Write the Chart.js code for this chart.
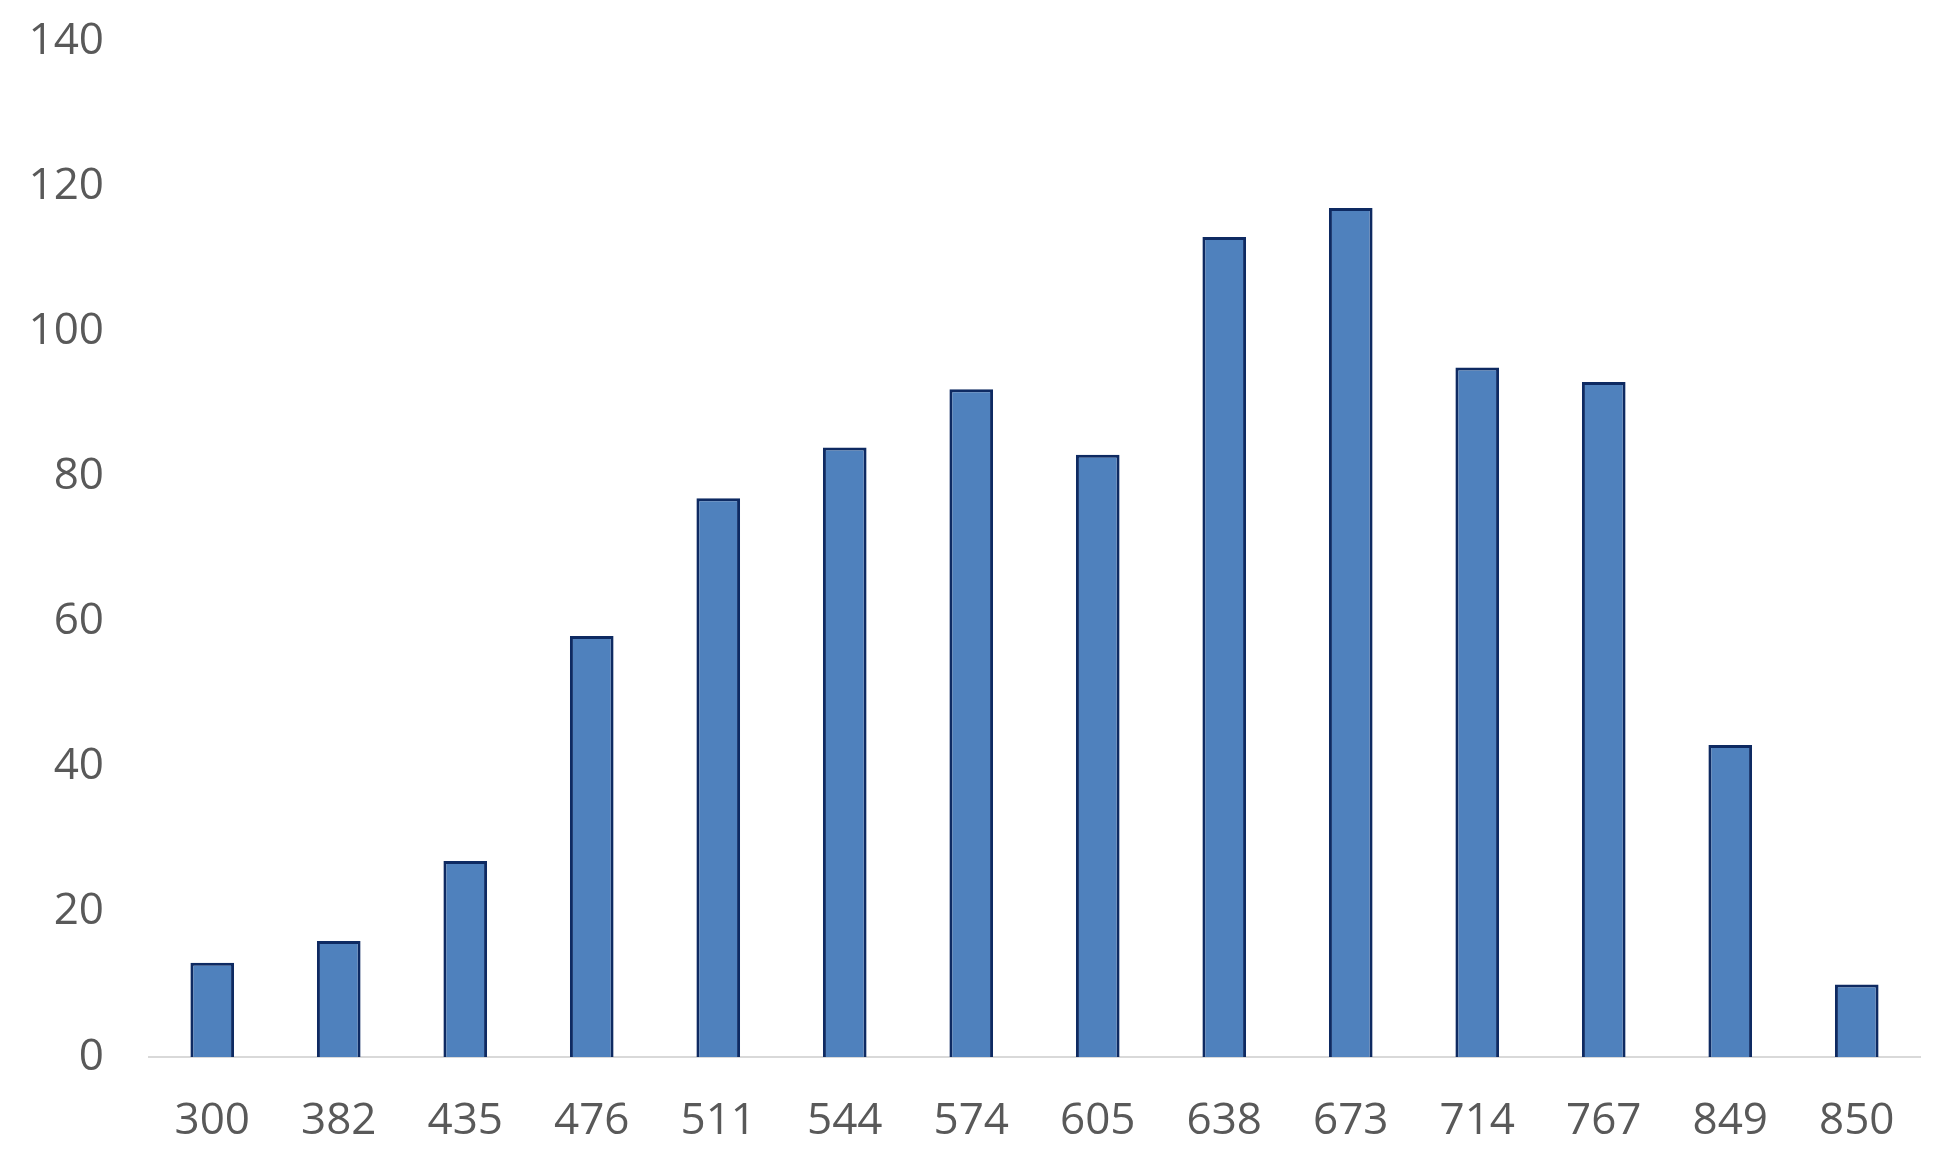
<!DOCTYPE html>
<html>
<head>
<meta charset="utf-8">
<script src="https://cdn.jsdelivr.net/npm/chart.js@4"></script>
<style>
  html, body { margin: 0; padding: 0; background: #fff; }
  #wrap { width: 1949px; height: 1174px; }
</style>
</head>
<body>
<div id="wrap"><canvas id="chart1"></canvas></div>
<script>
const categories = ['300', '382', '435', '476', '511', '544', '574', '605', '638', '673', '714', '767', '849', '850'];
const counts = [13, 16, 27, 58, 77, 84, 92, 83, 113, 117, 95, 93, 43, 10];
const yTicks = [0, 20, 40, 60, 80, 100, 120, 140];

// ============== Chart
document.addEventListener('DOMContentLoaded', () => {
  createChart1();
});

const createChart1 = () => {
  const ctx = document.getElementById('chart1').getContext('2d');

  const data = {
    labels: categories,
    datasets: [{
      data: counts,
      backgroundColor: '#4f81bd',
      borderColor: '#0e2a62',
      borderWidth: 3,
      borderSkipped: 'bottom',
      categoryPercentage: 1,
      barPercentage: 0.345
    }]
  };

  const config = {
    type: 'bar',
    data: data,
    options: {
      responsive: true,
      maintainAspectRatio: false,
      animation: false,
      layout: {
        padding: { top: 41, left: 0, right: 29, bottom: 0 }
      },
      plugins: {
        legend: { display: false },
        tooltip: { enabled: false }
      },
      scales: {
        x: {
          grid: { display: false, drawTicks: false },
          border: { display: true, color: '#d9d9d9', width: 2 },
          afterFit: (axis) => { axis.height = 117; },
          ticks: {
            color: '#595959',
            padding: 38,
            font: { family: 'Open Sans', size: 44 }
          }
        },
        y: {
          min: 0,
          max: 140,
          afterBuildTicks: (axis) => {
            axis.ticks = yTicks.map(v => ({ value: v }));
          },
          afterFit: (axis) => {
            axis.width = 149;
            axis.paddingTop = 0;
            axis.paddingBottom = 0;
          },
          grid: { display: false, drawTicks: false },
          border: { display: false },
          ticks: {
            color: '#595959',
            padding: 45,
            font: { family: 'Open Sans', size: 44 }
          }
        }
      }
    }
  };

  const newChart = new Chart(ctx, config);
};
</script>
</body>
</html>
